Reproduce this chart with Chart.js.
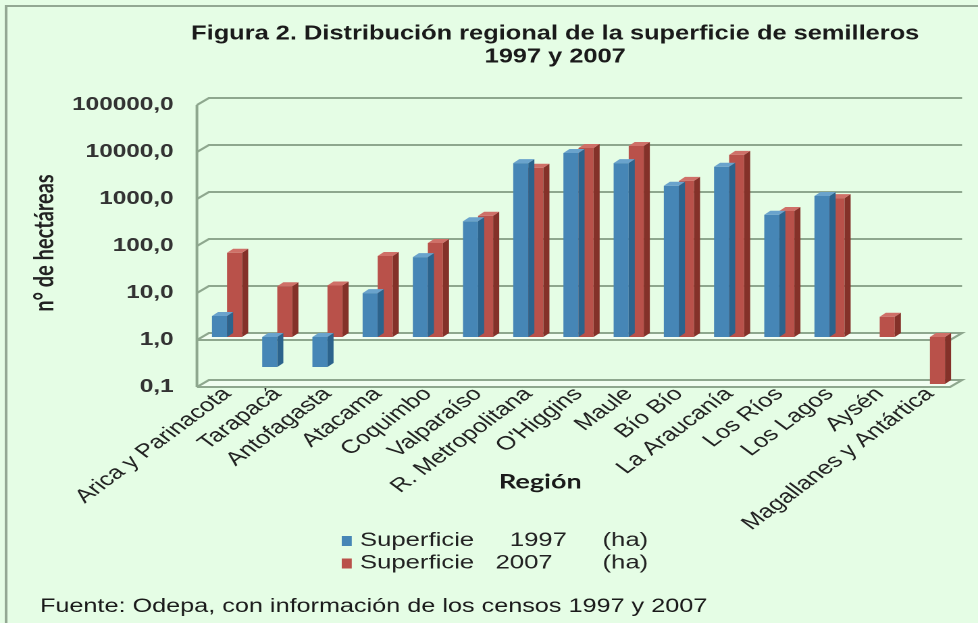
<!DOCTYPE html>
<html lang="es">
<head>
<meta charset="utf-8">
<title>Figura 2. Distribución regional de la superficie de semilleros</title>
<script src="https://cdn.jsdelivr.net/npm/chart.js@4.4.1/dist/chart.umd.min.js"></script>
<style>
  html, body { margin: 0; padding: 0; background: #e5fde5; overflow: hidden; }
  /* the original picture is stretched sideways, so the whole canvas is too */
  #wrap { width: 724px; height: 623px; transform: scaleX(1.3508); transform-origin: 0 0; }
  canvas { display: block; }
</style>
</head>
<body>
<div id="wrap"><canvas id="semillerosChart" width="724" height="623"></canvas></div>
<script>
// ========== DATA ==========
const regiones = ['Arica y Parinacota', 'Tarapacá', 'Antofagasta', 'Atacama', 'Coquimbo', 'Valparaíso',
    'R. Metropolitana', "O'Higgins", 'Maule', 'Bío Bío', 'La Araucanía', 'Los Ríos', 'Los Lagos',
    'Aysén', 'Magallanes y Antártica'];
const sup1997 = [2.8, 0.23, 0.23, 8.6, 50, 290, 5000, 8200, 5000, 1650, 4200, 400, 1000, null, null];
const sup2007 = [62, 12, 12.5, 53, 100, 380, 4000, 10500, 11600, 2100, 7500, 480, 900, 2.7, 0.1];
const yTicks = [0.1, 1, 10, 100, 1000, 10000, 100000];
const seriesLabels = ['Superficie     1997     (ha)', 'Superficie   2007       (ha)'];

const BG = '#e5fde5';
const GRID = '#8ea78e';
const SANS = "'Liberation Sans', Arial, sans-serif";

// 3D offsets (canvas px)
const FRONT = { dx: -3.7, dy: 3 };
const BACK = { dx: 5.2, dy: -4 };
const DEPTH = { dx: 4.5, dy: 4 };

// ========== PLUGINS ==========
const fondo = {
    id: 'fondo',
    beforeDraw(chart) {
        const ctx = chart.ctx;
        ctx.save();
        ctx.fillStyle = BG;
        ctx.fillRect(0, 0, chart.width, chart.height);
        ctx.strokeStyle = '#93a893';
        ctx.lineWidth = 2;
        ctx.beginPath();
        ctx.moveTo(4.5, chart.height);
        ctx.lineTo(4.5, 6);
        ctx.lineTo(chart.width, 6);
        ctx.stroke();
        ctx.restore();
    }
};

const paredes = {
    id: 'paredes',
    beforeDatasetsDraw(chart) {
        const { ctx, chartArea: a, scales: { y } } = chart;
        ctx.save();
        ctx.strokeStyle = GRID;
        ctx.lineWidth = 2;
        ctx.beginPath();
        ctx.moveTo(a.left + FRONT.dx, a.top + FRONT.dy);
        ctx.lineTo(a.left + FRONT.dx, a.bottom + FRONT.dy);
        ctx.stroke();
        y.ticks.forEach(t => {
            const py = y.getPixelForValue(t.value);
            const floor = t.value === 1 || t.value === 0.1;
            if (floor) {
                ctx.fillStyle = 'rgba(255,255,255,0.45)';
                ctx.beginPath();
                ctx.moveTo(a.left + FRONT.dx, py + FRONT.dy);
                ctx.lineTo(a.left + BACK.dx, py + BACK.dy);
                ctx.lineTo(a.right + BACK.dx, py + BACK.dy);
                ctx.lineTo(a.right + FRONT.dx, py + FRONT.dy);
                ctx.closePath();
                ctx.fill();
            }
            ctx.beginPath();
            ctx.moveTo(a.left + FRONT.dx, py + FRONT.dy);
            ctx.lineTo(a.left + BACK.dx, py + BACK.dy);
            ctx.lineTo(a.right + BACK.dx, py + BACK.dy);
            if (floor) {
                ctx.lineTo(a.right + FRONT.dx, py + FRONT.dy);
                ctx.lineTo(a.left + FRONT.dx, py + FRONT.dy);
            }
            ctx.stroke();
        });
        ctx.restore();
    }
};

const barras3d = {
    id: 'barras3d',
    afterDatasetDraw(chart, args) {
        const ds = chart.data.datasets[args.index];
        const ctx = chart.ctx;
        ctx.save();
        args.meta.data.forEach((bar, i) => {
            if (ds.data[i] == null) return;
            const { x, y, base, width } = bar.getProps(['x', 'y', 'base', 'width'], true);
            const l = x - width / 2, r = x + width / 2;
            const top = Math.min(y, base), bot = Math.max(y, base);
            ctx.fillStyle = ds.sideColor;
            ctx.beginPath();
            ctx.moveTo(r, top);
            ctx.lineTo(r + DEPTH.dx, top - DEPTH.dy);
            ctx.lineTo(r + DEPTH.dx, bot - DEPTH.dy);
            ctx.lineTo(r, bot);
            ctx.closePath();
            ctx.fill();
            ctx.fillStyle = ds.topColor;
            ctx.beginPath();
            ctx.moveTo(l, top);
            ctx.lineTo(l + DEPTH.dx, top - DEPTH.dy);
            ctx.lineTo(r + DEPTH.dx, top - DEPTH.dy);
            ctx.lineTo(r, top);
            ctx.closePath();
            ctx.fill();
        });
        ctx.restore();
    }
};

// text squeezed to a given width
function textoAjustado(ctx, text, x, y, width, align, k) {
    if (!k) k = width / ctx.measureText(text).width;
    ctx.save();
    ctx.translate(x, y);
    ctx.scale(k, 1);
    ctx.textAlign = align;
    ctx.fillText(text, 0, 0);
    ctx.restore();
    return k;
}

const textos = {
    id: 'textos',
    afterDraw(chart) {
        const ctx = chart.ctx;
        ctx.save();
        ctx.textBaseline = 'middle';
        ctx.fillStyle = '#1a1a1a';

        // title
        ctx.font = "bold 20px 'Liberation Sans Narrow', 'Liberation Sans', Arial, sans-serif";
        const k = textoAjustado(ctx, 'Figura 2. Distribución regional de la superficie de semilleros', 411, 34, 539, 'center');
        textoAjustado(ctx, '1997 y 2007', 411, 57, 0, 'center', k);

        // x axis title
        ctx.font = "bold 20px Lato, 'Open Sans', sans-serif";
        ctx.textAlign = 'center';
        ctx.fillText('Región', 400, 482);

        // legend
        ctx.font = '19px ' + SANS;
        ctx.textAlign = 'left';
        chart.data.datasets.forEach((ds, i) => {
            const yy = 541 + i * 22.5;
            ctx.fillStyle = ds.backgroundColor;
            ctx.fillRect(253, yy - 5, 7.4, 10);
            ctx.fillStyle = '#222';
            ctx.fillText(ds.label, 266.5, yy);
        });

        // source
        ctx.fillStyle = '#1a1a1a';
        textoAjustado(ctx, 'Fuente: Odepa, con información de los censos 1997 y 2007', 29.6, 607, 494, 'left');
        ctx.restore();
    }
};

// ========== CHART ==========
const ctx = document.getElementById('semillerosChart').getContext('2d');
const chart = new Chart(ctx, {
    type: 'bar',
    data: {
        labels: regiones,
        datasets: [{
            label: seriesLabels[0],
            data: sup1997,
            backgroundColor: '#4686b6',
            sideColor: '#2c638c',
            topColor: '#6aa3cc',
            base: 1
        }, {
            label: seriesLabels[1],
            data: sup2007,
            backgroundColor: '#b9514a',
            sideColor: '#843129',
            topColor: '#cf7068',
            base: 1
        }]
    },
    options: {
        responsive: false,
        animation: false,
        devicePixelRatio: 2,
        layout: { padding: { left: 0, right: 17, top: 102, bottom: 0 } },
        datasets: { bar: { categoryPercentage: 0.6, barPercentage: 1 } },
        plugins: {
            legend: { display: false },
            tooltip: { enabled: false }
        },
        scales: {
            x: {
                grid: { display: false },
                border: { display: false },
                ticks: {
                    autoSkip: false,
                    minRotation: 45,
                    maxRotation: 45,
                    padding: -9,
                    color: '#222',
                    font: { family: SANS, size: 19 }
                },
                afterFit: axis => { axis.height = 239; }
            },
            y: {
                type: 'logarithmic',
                min: 0.1,
                max: 100000,
                grid: { display: false, drawTicks: false },
                border: { display: false },
                afterBuildTicks: axis => { axis.ticks = yTicks.map(v => ({ value: v })); },
                ticks: {
                    padding: 21,
                    labelOffset: 3,
                    color: '#333',
                    font: { family: SANS, size: 18, weight: 'bold' },
                    callback: v => Number(v).toFixed(1).replace('.', ',')
                },
                title: {
                    display: true,
                    text: 'n° de hectáreas',
                    color: '#222',
                    font: { family: "Lato, 'Open Sans', sans-serif", size: 20, weight: 'bold' },
                    padding: { top: 21, bottom: 0 }
                },
                afterFit: axis => { axis.width = 149.5; }
            }
        }
    },
    plugins: [fondo, paredes, barras3d, textos]
});
</script>
</body>
</html>
